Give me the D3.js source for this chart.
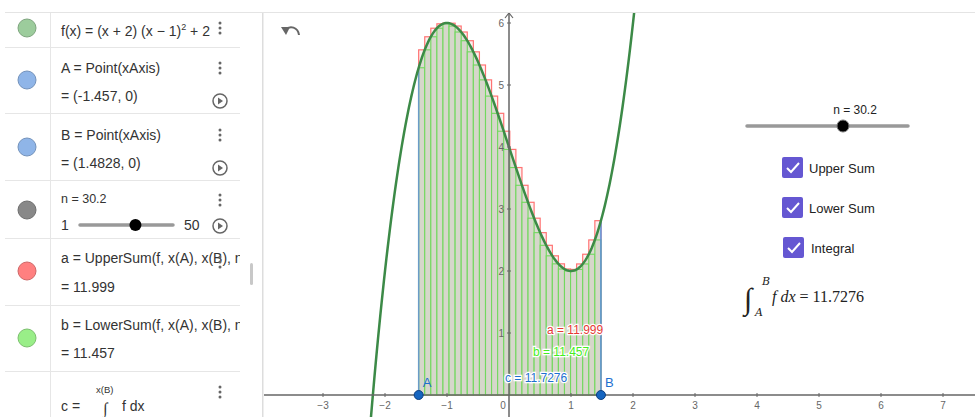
<!DOCTYPE html>
<html>
<head>
<meta charset="utf-8">
<script src="https://cdn.jsdelivr.net/npm/d3@7"></script>
<style>
  body { margin: 0; background: #fff; }
  svg { display: block; font-family: "Liberation Sans", Arial, sans-serif; }
</style>
</head>
<body>
<div id="chart"></div>
<script>
// values
var pointA = -1.457;
var pointB = 1.4828;
var nValue = 30.2;
var upperValue = 11.999;
var lowerValue = 11.457;
var integralValue = 11.7276;
var xTicks = [-3, -2, -1, 0, 1, 2, 3, 4, 5, 6, 7];
var yTicks = [1, 2, 3, 4, 5, 6];
var checkLabels = ["Upper Sum", "Lower Sum", "Integral"];
var rowColors = ["#9ccc9c", "#8fb5e8", "#8fb5e8", "#888888", "#ff8080", "#99ee88"];

// f(x) = (x + 2) (x - 1)^2 + 2, as shown in the algebra view
function f(x) { return (x + 2) * (x - 1) * (x - 1) + 2; }

var W = 975, H = 417;
var svg = d3.select("#chart").append("svg").attr("width", W).attr("height", H);

// graphics view
var gLeft = 263, gTop = 12;
var x = d3.scaleLinear().domain([0, 1]).range([509, 571]);
var y = d3.scaleLinear().domain([0, 1]).range([395, 333]);
var xmin = x.invert(gLeft), xmax = x.invert(W);

var g = svg.append("g");
g.append("defs").append("clipPath").attr("id", "clip")
  .append("rect").attr("x", gLeft).attr("y", gTop).attr("width", W - gLeft).attr("height", H - gTop);
var plot = g.append("g").attr("clip-path", "url(#clip)");

// sums
var nBars = Math.round(nValue);
var dx = (pointB - pointA) / nBars;
var bars = d3.range(nBars).map(function (i) {
  var x0 = pointA + i * dx, x1 = x0 + dx;
  var vals = d3.range(41).map(function (k) { return f(x0 + k * dx / 40); });
  return { x0: x0, x1: x1, hi: d3.max(vals), lo: d3.min(vals) };
});

plot.selectAll("rect.up").data(bars).enter().append("rect")
  .attr("x", d => x(d.x0)).attr("width", d => x(d.x1) - x(d.x0))
  .attr("y", d => y(d.hi)).attr("height", d => y(0) - y(d.hi))
  .attr("fill", "#fdf1f0").attr("stroke", "#ff7373").attr("stroke-width", 1.2);

// integral area
var area = d3.area().x(d => x(d)).y0(y(0)).y1(d => y(f(d)));
var ix = d3.range(0, 201).map(k => pointA + k * (pointB - pointA) / 200);
plot.append("path").datum(ix).attr("d", area).attr("fill", "#dcdcd2");

plot.selectAll("rect.lo").data(bars).enter().append("rect")
  .attr("x", d => x(d.x0)).attr("width", d => x(d.x1) - x(d.x0))
  .attr("y", d => y(d.lo)).attr("height", d => y(0) - y(d.lo))
  .attr("fill", "#d6d7cb").attr("stroke", "#72d85e").attr("stroke-width", 1.1);

plot.append("line").attr("x1", x(pointA)).attr("x2", x(pointA)).attr("y1", y(0)).attr("y2", y(f(pointA)))
  .attr("stroke", "#6a9cc8").attr("stroke-width", 1.5);
plot.append("line").attr("x1", x(pointB)).attr("x2", x(pointB)).attr("y1", y(0)).attr("y2", y(f(pointB)))
  .attr("stroke", "#5b8fd8").attr("stroke-width", 1.5);

// axes
var ax = g.append("g").attr("stroke", "#666").attr("fill", "none");
ax.append("line").attr("x1", gLeft).attr("x2", W).attr("y1", y(0)).attr("y2", y(0)).attr("stroke-width", 1.5);
ax.append("line").attr("x1", x(0)).attr("x2", x(0)).attr("y1", gTop + 1).attr("y2", H).attr("stroke-width", 1.5);
ax.append("path").attr("d", `M${x(0) - 4},${gTop + 6}L${x(0)},${gTop + 1}L${x(0) + 4},${gTop + 6}`).attr("stroke-width", 1.2);

var tickFont = 10;
xTicks.forEach(function (t) {
  if (t !== 0) {
    ax.append("line").attr("x1", x(t)).attr("x2", x(t)).attr("y1", y(0) - 2).attr("y2", y(0) + 2);
  }
  g.append("text").attr("x", t === 0 ? x(0) - 6 : x(t)).attr("y", y(0) + 14)
    .attr("text-anchor", "middle").attr("font-size", tickFont).attr("fill", "#666")
    .text(t < 0 ? "\u2212" + Math.abs(t) : t);
});
yTicks.forEach(function (t) {
  ax.append("line").attr("x1", x(0) - 2).attr("x2", x(0) + 2).attr("y1", y(t)).attr("y2", y(t));
  g.append("text").attr("x", x(0) - 5).attr("y", y(t) + 4)
    .attr("text-anchor", "end").attr("font-size", tickFont).attr("fill", "#666").text(t);
});

// curve
var cx = d3.range(0, 601).map(k => xmin + k * (xmax - xmin) / 600);
plot.append("path").datum(cx)
  .attr("d", d3.line().x(d => x(d)).y(d => y(f(d))))
  .attr("fill", "none").attr("stroke", "#3c8a47").attr("stroke-width", 2.5);

// points A, B
[["A", pointA], ["B", pointB]].forEach(function (p) {
  g.append("circle").attr("cx", x(p[1])).attr("cy", y(0)).attr("r", 4.5)
    .attr("fill", "#1565c0").attr("stroke", "#0d3f80").attr("stroke-width", 1);
  g.append("text").attr("x", x(p[1]) + 4).attr("y", y(0) - 8)
    .attr("font-size", 13).attr("fill", "#1e6fd0").text(p[0]);
});

// value labels
function halo(t) {
  return t.attr("stroke", "#fff").attr("stroke-width", 2.5).attr("paint-order", "stroke");
}
halo(g.append("text").attr("x", 547).attr("y", 334).attr("font-size", 12).attr("fill", "#e53935")
  .text("a = " + upperValue));
halo(g.append("text").attr("x", 533).attr("y", 356).attr("font-size", 12).attr("fill", "#44ee22")
  .text("b = " + lowerValue));
halo(g.append("text").attr("x", 505).attr("y", 382).attr("font-size", 12).attr("fill", "#1e6fd0")
  .text("c = " + integralValue));

// undo icon
g.append("path").attr("d", "M285,30 C290,25 298,27 299,35").attr("fill", "none")
  .attr("stroke", "#666").attr("stroke-width", 2);
g.append("path").attr("d", "M281,27 L286,35 L290,27 Z").attr("fill", "#666");

// slider on the graphics view
var sl = d3.scaleLinear().domain([1, 50]).range([747, 908]);
g.append("text").attr("x", 855).attr("y", 114).attr("text-anchor", "middle")
  .attr("font-size", 12).attr("fill", "#222").text("n = " + nValue);
g.append("line").attr("x1", sl(1)).attr("x2", sl(50)).attr("y1", 126).attr("y2", 126)
  .attr("stroke", "#999").attr("stroke-width", 3.5).attr("stroke-linecap", "round");
g.append("circle").attr("cx", 843).attr("cy", 126).attr("r", 6).attr("fill", "#000")
  .attr("stroke", "#777").attr("stroke-width", 1);

// checkboxes
checkLabels.forEach(function (lab, i) {
  var bx = 782 + (i === 2 ? 1 : 0), by = 157 + i * 40;
  g.append("rect").attr("x", bx).attr("y", by).attr("width", 21).attr("height", 21)
    .attr("rx", 2).attr("fill", "#6557d2");
  g.append("path").attr("d", `M${bx + 5},${by + 11} L${bx + 9},${by + 15} L${bx + 17},${by + 6}`)
    .attr("fill", "none").attr("stroke", "#fff").attr("stroke-width", 2);
  g.append("text").attr("x", 809 + (i === 2 ? 2 : 0)).attr("y", by + 16)
    .attr("font-size", 13).attr("fill", "#222").text(lab);
});

// integral formula
var serif = "'DejaVu Serif', 'Liberation Serif', serif";
g.append("text").attr("x", 744).attr("y", 309).attr("font-size", 30).attr("font-family", "'Liberation Serif', serif")
  .attr("fill", "#222").text("\u222B");
g.append("text").attr("x", 762).attr("y", 285).attr("font-size", 11).attr("font-style", "italic")
  .attr("font-family", serif).attr("fill", "#222").text("B");
g.append("text").attr("x", 755).attr("y", 316).attr("font-size", 11).attr("font-style", "italic")
  .attr("font-family", serif).attr("fill", "#222").text("A");
var ft = g.append("text").attr("x", 772).attr("y", 302).attr("font-size", 16)
  .attr("font-family", "'Liberation Serif', serif").attr("fill", "#222");
ft.append("tspan").attr("font-style", "italic").text("f dx");
ft.append("tspan").text(" = " + integralValue);

// algebra view (left panel)
var panel = svg.append("g");
panel.append("rect").attr("x", 0).attr("y", 0).attr("width", 262).attr("height", H).attr("fill", "#fff");
panel.append("line").attr("x1", 262.5).attr("x2", 262.5).attr("y1", gTop).attr("y2", H).attr("stroke", "#ddd");
panel.append("line").attr("x1", 263.5).attr("x2", 263.5).attr("y1", gTop).attr("y2", H).attr("stroke", "#eee");
svg.append("line").attr("x1", 5).attr("x2", W).attr("y1", gTop + 0.5).attr("y2", gTop + 0.5).attr("stroke", "#e4e4e4");

var rowLines = [47, 113, 180, 238, 305, 371];
rowLines.forEach(function (ly) {
  panel.append("line").attr("x1", 5).attr("x2", 240).attr("y1", ly + 0.5).attr("y2", ly + 0.5).attr("stroke", "#e6e6e6");
});
panel.append("line").attr("x1", 50.5).attr("x2", 50.5).attr("y1", gTop).attr("y2", H).attr("stroke", "#e6e6e6");

var circleY = [28, 80, 147, 210, 271, 338];
circleY.forEach(function (cy, i) {
  panel.append("circle").attr("cx", 27).attr("cy", cy).attr("r", 9)
    .attr("fill", rowColors[i]).attr("stroke", d3.color(rowColors[i]).darker(0.6)).attr("stroke-width", 1);
});

var txt = { size: 14, col: "#333" };
function line(xp, yp, s) {
  return panel.append("text").attr("x", xp).attr("y", yp).attr("font-size", txt.size).attr("fill", txt.col).text(s);
}
var t1 = line(61, 36, "f(x) = (x + 2) (x \u2212 1)");
t1.append("tspan").attr("font-size", 9).attr("dy", -6).text("2");
t1.append("tspan").attr("dy", 6).text(" + 2");
line(61, 73, "A = Point(xAxis)");
line(61, 101, "= (" + pointA + ", 0)");
line(61, 140, "B = Point(xAxis)");
line(61, 168, "= (" + pointB + ", 0)");
line(61, 203, "n = " + nValue).attr("font-size", 12.5);
line(61, 230, "1");
line(184, 230, "50");
line(61, 263, "a = UpperSum(f, x(A), x(B), n");
line(61, 292, "= " + upperValue);
line(61, 330, "b = LowerSum(f, x(A), x(B), n)");
line(61, 358, "= " + lowerValue);
line(61, 411, "c =");
panel.append("text").attr("x", 96).attr("y", 393).attr("font-size", 9.5).attr("fill", txt.col).text("x(B)");
panel.append("text").attr("x", 103).attr("y", 414).attr("font-size", 16).attr("font-family", "'Liberation Serif', serif")
  .attr("fill", txt.col).text("\u222B");
line(122, 411, "f dx");

// cover the overflowing text at the right of the rows
panel.append("rect").attr("x", 240).attr("y", 240).attr("width", 22).attr("height", 130).attr("fill", "#fff");

// small slider in the algebra view
var ps = d3.scaleLinear().domain([1, 50]).range([80, 173]);
panel.append("line").attr("x1", ps(1)).attr("x2", ps(50)).attr("y1", 225).attr("y2", 225)
  .attr("stroke", "#999").attr("stroke-width", 3.5).attr("stroke-linecap", "round");
panel.append("circle").attr("cx", ps(nValue)).attr("cy", 225).attr("r", 6).attr("fill", "#000");

// menu dots and play buttons
[[220, 28], [220, 68], [220, 135], [220, 200], [220, 262], [220, 392]].forEach(function (p) {
  [-5, 0, 5].forEach(function (o) {
    panel.append("circle").attr("cx", p[0]).attr("cy", p[1] + o).attr("r", 1.5).attr("fill", "#666");
  });
});
[101, 168, 226].forEach(function (py) {
  panel.append("circle").attr("cx", 220).attr("cy", py).attr("r", 7).attr("fill", "none")
    .attr("stroke", "#666").attr("stroke-width", 1.5);
  panel.append("path").attr("d", `M218,${py - 3.5} L223,${py} L218,${py + 3.5} Z`).attr("fill", "#666");
});
// scrollbar
panel.append("rect").attr("x", 250).attr("y", 263).attr("width", 3).attr("height", 22).attr("rx", 1.5).attr("fill", "#c8c8c8");
</script>
</body>
</html>
